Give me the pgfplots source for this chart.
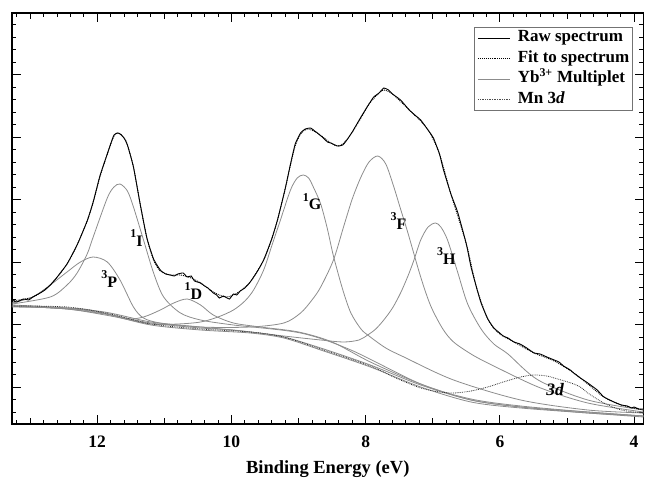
\documentclass[border=0pt]{standalone}
\usepackage{fontspec}
\setmainfont{Liberation Serif}
\usepackage{pgfplots}
\pgfplotsset{compat=1.18}
\newcommand\lab[2]{\raisebox{9pt}{\fontsize{12}{12}\selectfont#1}\fontsize{16}{16}\selectfont #2}
\begin{document}
\begin{tikzpicture}
\useasboundingbox (-12pt,-53pt) rectangle (633pt,424pt);
\begin{axis}[
  at={(0pt,0pt)}, anchor=south west,
  scale only axis, width=631.5pt, height=411pt,
  x dir=reverse, xmin=3.86, xmax=13.27, ymin=0, ymax=411,
  axis line style={line width=1.1pt},
  every tick/.style={black, line width=0.9pt},
  major tick length=9pt, minor tick length=4.5pt,
  xtick={4,6,8,10,12},
  minor xtick={4.2,4.4,...,13.2},
  extra x ticks={5,7,9,11,13}, extra x tick labels={},
  extra x tick style={major tick length=6.5pt},
  ytick={37,99.5,162,224.5,287,349.5}, yticklabels={},
  minor ytick={12,24.5,...,411},
  /pgf/number format/assume math mode=true,
  xticklabel style={font=\fontsize{17.5}{17.5}\selectfont\bfseries, inner sep=0pt, yshift=-12pt},
  xlabel={Binding Energy (eV)},
  xlabel style={font=\fontsize{18.5}{18.5}\selectfont\bfseries, at={(axis description cs:0.5,0)}, anchor=north, yshift=-36pt, inner sep=0pt},
  legend style={at={(0.9834,0.966)}, anchor=north east, draw=black!55, line width=0.6pt,
    font=\fontsize{17}{17}\selectfont\bfseries, inner xsep=3.5pt, inner ysep=2.2pt,
    row sep=3.5pt, column sep=7pt,
    nodes={inner sep=0pt, text height=12.5pt, text depth=4.5pt}},
  legend cell align=left,
  legend image code/.code={\draw[#1] (0pt,0pt) -- (32pt,0pt);},
]
\addlegendimage{black, line width=0.9pt}
\addlegendentry{Raw spectrum}
\addlegendimage{black, densely dotted, line width=0.9pt}
\addlegendentry{Fit to spectrum}
\addlegendimage{black!45, line width=0.8pt}
\addlegendentry{Yb\textsuperscript{3+} Multiplet}
\addlegendimage{black!70, densely dotted, line width=0.7pt}
\addlegendentry{Mn 3\textit{d}}

% background band
\addplot[black!45, line width=0.8pt, smooth, forget plot] coordinates {
(13.27,117)(12.45,116)(12.1,114)(11.8,109)(11.2,99)(10.46,94)(9.72,91)(9.22,86)(8.67,74)(7.93,57)(7.18,37)(6.43,22)(5.69,16)(4.69,11)(3.86,7)};
% 3P
\addplot[black!45, line width=0.8pt, smooth, forget plot] coordinates {
(13.27,121)(12.96,127)(12.70,139)(12.45,152)(12.25,162)(12.06,167)(11.85,162)(11.66,144)(11.46,117)(11.31,106)(11.06,101)(10.46,97)(9.72,92)(9.22,87)(8.67,76)(7.93,59)(7.18,39)(6.43,24)(5.69,17)(4.69,12)(3.86,8)};
% 1I
\addplot[black!45, line width=0.8pt, smooth, forget plot] coordinates {
(13.27,120)(12.70,127)(12.45,139)(12.30,151)(12.15,170)(12.06,187)(11.85,226)(11.75,237)(11.66,240)(11.55,233)(11.46,217)(11.31,184)(11.16,151)(11.01,127)(10.76,111)(10.46,104)(9.97,99)(8.97,91)(8.22,74)(7.18,40)(6.43,25)(5.69,18)(4.69,12)(3.86,8)};
% 1D
\addplot[black!45, line width=0.8pt, smooth, forget plot] coordinates {
(13.27,119)(12.45,116)(11.85,110)(11.55,105)(11.31,107)(11.06,114)(10.86,121)(10.66,125)(10.46,119)(10.27,109)(9.97,101)(9.57,97)(9.0,92)(8.5,82)(7.93,62)(7.18,40)(6.43,24)(5.69,17)(4.69,11)(3.86,8)};
% 1G
\addplot[black!45, line width=0.8pt, smooth, forget plot] coordinates {
(13.27,118)(12.45,115)(11.8,108)(11.2,100)(10.8,100)(10.46,102)(10.2,107)(9.97,114)(9.80,123)(9.67,134)(9.52,154)(9.40,178)(9.27,204)(9.12,234)(9.02,246)(8.93,249)(8.85,246)(8.78,237)(8.67,220)(8.57,195)(8.48,168)(8.34,134)(8.22,111)(8.07,95)(7.95,88)(7.7,76)(7.43,67)(6.69,44)(5.69,24)(4.69,14)(3.86,11)};
% 3F
\addplot[black!45, line width=0.8pt, smooth, forget plot] coordinates {
(13.27,118)(12,113)(11.2,102)(10.46,97)(9.72,97)(9.22,101)(8.97,111)(8.80,124)(8.67,137)(8.48,164)(8.33,197)(8.20,225)(8.07,247)(7.95,262)(7.82,268)(7.70,260)(7.58,237)(7.48,215)(7.37,191)(7.18,147)(7.03,118)(6.85,95)(6.69,82)(6.43,70)(6.18,61)(5.43,37)(4.69,21)(3.86,12)};
% 3H
\addplot[black!45, line width=0.8pt, smooth, forget plot] coordinates {
(13.27,118)(12.45,115)(11.8,109)(11.2,101)(10.46,96)(9.97,94)(9.22,88)(8.67,84)(8.33,82)(8.10,84)(7.97,89)(7.85,95)(7.73,104)(7.60,116)(7.48,131)(7.37,148)(7.28,164)(7.18,184)(7.07,197)(6.96,201)(6.88,197)(6.78,184)(6.63,152)(6.48,120)(6.28,95)(6.09,80)(5.88,70)(5.43,44)(4.69,24)(3.86,14)};
% Mn 3d
\addplot[black!80, densely dotted, line width=0.8pt, smooth, forget plot] coordinates {
(13.27,118)(12.45,117)(11.8,110)(11.2,100)(10.46,95)(9.72,92)(9.22,87)(8.67,75)(7.93,58)(7.55,46)(7.18,36)(6.90,32)(6.69,31)(6.43,33)(6.18,37)(5.95,42)(5.69,47)(5.49,49)(5.30,48)(5.19,46)(4.94,41)(4.80,37)(4.69,31)(4.45,21)(4.19,14)(3.86,11)};
% raw
\addplot[black, line width=0.9pt, smooth, tension=0.3, forget plot] coordinates {
(13.27,124)(13.2,122)(13.1,125)(13.02,124)(12.96,127)(12.85,131)(12.78,134)(12.70,139)(12.62,145)(12.55,151)(12.45,160)(12.30,179)(12.15,203)(12.06,222)(11.96,248)(11.85,270)(11.79,282)(11.75,289)(11.70,291)(11.66,290)(11.60,286)(11.55,279)(11.46,257)(11.36,220)(11.26,186)(11.16,165)(11.06,154)(10.98,150)(10.91,149)(10.85,148)(10.80,150)(10.72,151)(10.66,147)(10.60,148)(10.55,143)(10.46,141)(10.40,138)(10.35,136)(10.27,131)(10.22,129)(10.18,126)(10.12,128)(10.09,127)(10.03,125)(9.97,130)(9.92,129)(9.87,133)(9.80,136)(9.72,142)(9.62,152)(9.52,164)(9.40,185)(9.31,205)(9.20,235)(9.12,260)(9.05,280)(8.97,291)(8.90,295)(8.82,296)(8.76,293)(8.72,291)(8.63,286)(8.57,282)(8.52,281)(8.42,278)(8.34,279)(8.27,285)(8.20,292)(8.07,307)(7.95,320)(7.88,327)(7.80,331)(7.73,336)(7.66,334)(7.60,330)(7.48,324)(7.35,314)(7.25,308)(7.18,304)(7.05,292)(6.99,286)(6.90,270)(6.84,254)(6.73,230)(6.63,212)(6.50,180)(6.43,157)(6.35,137)(6.28,121)(6.18,105)(6.09,96)(6.02,92)(5.95,88)(5.88,86)(5.79,82)(5.70,80)(5.60,76)(5.49,71)(5.40,70)(5.30,67)(5.19,64)(5.12,62)(5.05,58)(4.95,54)(4.90,51)(4.80,46)(4.69,41)(4.55,34)(4.45,27)(4.30,22)(4.19,19)(4.10,18)(4.04,16)(4.00,17)(3.93,15)(3.86,15)};
% fit
\addplot[black, densely dotted, line width=0.9pt, smooth, forget plot] coordinates {
(13.27,123)(12.96,127)(12.70,139)(12.45,160)(12.30,179)(12.15,203)(12.06,222)(11.96,247)(11.85,270)(11.75,288)(11.68,291)(11.60,286)(11.55,279)(11.46,257)(11.36,220)(11.26,186)(11.16,164)(11.06,153)(10.91,149)(10.76,149)(10.60,146)(10.46,141)(10.27,132)(10.09,127)(9.97,129)(9.87,133)(9.72,142)(9.52,164)(9.40,185)(9.31,205)(9.20,235)(9.12,259)(9.05,278)(8.97,290)(8.87,295)(8.72,291)(8.52,281)(8.40,278)(8.27,285)(8.07,306)(7.95,320)(7.80,331)(7.73,334)(7.60,330)(7.35,314)(7.18,303)(7.05,292)(6.90,270)(6.73,230)(6.50,180)(6.35,137)(6.18,105)(6.02,91)(5.79,82)(5.49,71)(5.19,63)(4.90,51)(4.69,40)(4.45,27)(4.19,19)(3.86,14)};

% labels
\node[font=\bfseries, anchor=base west, inner sep=0pt] at (axis cs:11.94,137) {\lab{3}{P}};
\node[font=\bfseries, anchor=base west, inner sep=0pt] at (axis cs:11.51,178) {\lab{1}{I}};
\node[font=\bfseries, anchor=base west, inner sep=0pt] at (axis cs:10.70,125) {\lab{1}{D}};
\node[font=\bfseries, anchor=base west, inner sep=0pt] at (axis cs:8.94,214) {\lab{1}{G}};
\node[font=\bfseries, anchor=base west, inner sep=0pt] at (axis cs:7.63,194) {\lab{3}{F}};
\node[font=\bfseries, anchor=base west, inner sep=0pt] at (axis cs:6.94,160) {\lab{3}{H}};
\node[font=\fontsize{17.5}{17.5}\selectfont\bfseries\itshape, anchor=base west, inner sep=0pt] at (axis cs:5.31,29) {3d};
\end{axis}
\end{tikzpicture}
\end{document}
